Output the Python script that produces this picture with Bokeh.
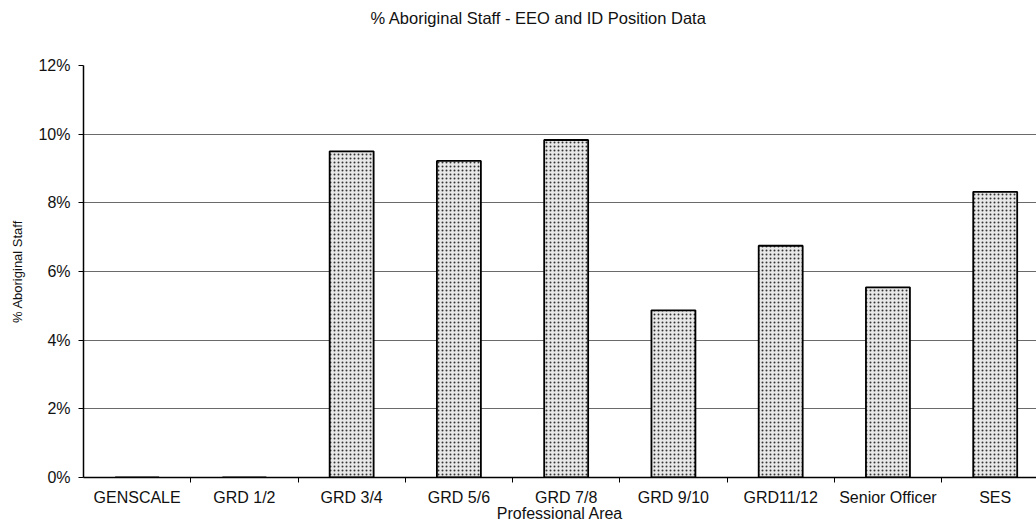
from bokeh.plotting import figure
from bokeh.models import ColumnDataSource, FixedTicker, PrintfTickFormatter, Range1d, Title
from bokeh.embed import file_html
from bokeh.resources import INLINE

# Share of Aboriginal staff (%) by classification level
categories = ["GENSCALE", "GRD 1/2", "GRD 3/4", "GRD 5/6", "GRD 7/8",
              "GRD 9/10", "GRD11/12", "Senior Officer", "SES"]
pct_aboriginal = [0.0, 0.0, 9.5, 9.22, 9.83, 4.87, 6.75, 5.54, 8.32]
y_ticks = [0, 2, 4, 6, 8, 10, 12]
chart_title = "% Aboriginal Staff - EEO and ID Position Data"

FONT = "Liberation Sans"

centers = [i + 0.5 for i in range(len(categories))]
src = ColumnDataSource(dict(x=centers, top=pct_aboriginal, cat=categories))

p = figure(width=1036, height=524, output_backend="svg", toolbar_location=None,
           x_range=Range1d(0, 8.885), y_range=Range1d(0, 12),
           min_border_left=83, min_border_right=0, min_border_top=65,
           min_border_bottom=47)

p.outline_line_color = None
p.background_fill_color = "white"

# blank band between the frame and the heading, then the heading itself
p.add_layout(Title(text=" ", text_font=FONT, text_font_size="28px", standoff=4), "above")
p.add_layout(Title(text=chart_title, text_font=FONT, text_font_size="16.5px",
                   text_font_style="normal", text_color="#111111",
                   align="left", offset=287, standoff=4), "above")

p.vbar(x="x", top="top", width=0.41, source=src,
       fill_color="#e8e8e8", line_color="black", line_width=1.8,
       hatch_pattern="dot", hatch_scale=4, hatch_weight=1.5, hatch_color="#333333")

# x axis: labels at category centres, ticks between categories
xa = p.xaxis[0]
xa.ticker = FixedTicker(ticks=centers, minor_ticks=list(range(1, len(categories))))
xa.major_label_overrides = {c: lab for c, lab in zip(centers, categories)}
xa.major_tick_out = 0
xa.major_tick_in = 0
xa.minor_tick_out = 5
xa.minor_tick_in = 0
xa.minor_tick_line_color = "black"
xa.axis_line_color = "black"
xa.axis_line_width = 1.5
xa.major_label_standoff = 6
xa.major_label_text_font = FONT
xa.major_label_text_font_size = "16px"
xa.major_label_text_color = "#111111"
xa.axis_label = "Professional Area"
xa.axis_label_text_font = FONT
xa.axis_label_text_font_size = "16px"
xa.axis_label_text_font_style = "normal"
xa.axis_label_text_color = "#111111"
xa.axis_label_standoff = -4

ya = p.yaxis[0]
ya.ticker = FixedTicker(ticks=y_ticks, minor_ticks=[])
ya.formatter = PrintfTickFormatter(format="%d%%")
ya.major_tick_out = 5
ya.major_tick_in = 0
ya.major_tick_line_color = "black"
ya.axis_line_color = "black"
ya.axis_line_width = 1.5
ya.major_label_standoff = 8
ya.major_label_text_font = FONT
ya.major_label_text_font_size = "16px"
ya.major_label_text_color = "#111111"
ya.axis_label = "% Aboriginal Staff"
ya.axis_label_text_font = FONT
ya.axis_label_text_font_size = "13px"
ya.axis_label_text_font_style = "normal"
ya.axis_label_text_color = "#111111"
ya.axis_label_standoff = 10

p.xgrid.grid_line_color = None
p.ygrid.grid_line_color = "#6a6a6a"
p.ygrid.grid_line_width = 1
p.ygrid.level = "underlay"

open("out.html", "w").write(file_html(p, INLINE))
